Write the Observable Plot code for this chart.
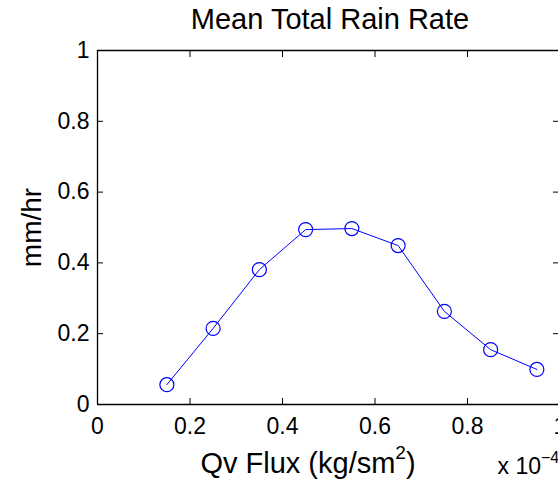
<!DOCTYPE html>
<html>
<head>
<meta charset="utf-8">
<script src="https://cdn.jsdelivr.net/npm/d3@7"></script>
<script src="https://cdn.jsdelivr.net/npm/@observablehq/plot@0.6"></script>
<style>
  html, body { margin: 0; padding: 0; background: #fff; }
</style>
</head>
<body>
<div id="chart"></div>
<script>
const qvFlux = [0.15, 0.25, 0.35, 0.45, 0.55, 0.65, 0.75, 0.85, 0.95];
const rainRate = [0.056, 0.215, 0.381, 0.494, 0.497, 0.449, 0.263, 0.155, 0.099];
const xTicks = [0, 0.2, 0.4, 0.6, 0.8, 1];
const yTicks = [0, 0.2, 0.4, 0.6, 0.8, 1];
const titleText = "Mean Total Rain Rate";
const xLabelBase = "Qv Flux (kg/sm";
const xLabelSup = "2";
const xLabelTail = ")";
const yLabel = "mm/hr";
const xExpBase = "x 10";
const xExpSup = "\u22124";

const data = qvFlux.map((x, i) => ({x, y: rainRate[i]}));
const fmt = d => String(d);
const blue = "#0000ff";
const xLabelFull = xLabelBase + xLabelSup + xLabelTail;
const xExpFull = xExpBase + xExpSup;

const chart = Plot.plot({
  width: 558,
  height: 482,
  marginTop: 50,
  marginBottom: 78,
  marginLeft: 97,
  marginRight: 0,
  style: {fontFamily: "'Liberation Sans', Arial, Helvetica, sans-serif", fontSize: "23px", background: "#fff", color: "#000"},
  x: {domain: [0, 1], range: [97, 559.5]},
  y: {domain: [0, 1]},
  marks: [
    Plot.ruleY([0, 1], {stroke: "#000", strokeWidth: 1.3}),
    Plot.ruleX([0, 1], {stroke: "#000", strokeWidth: 1.3}),
    Plot.axisX({anchor: "bottom", ticks: xTicks, tickSize: -6, tickPadding: 19, tickFormat: fmt, label: null, stroke: "#000", fill: "#000", fontSize: 23}),
    Plot.axisX({anchor: "top", ticks: xTicks, tickSize: -6, tickFormat: () => "", label: null, stroke: "#000"}),
    Plot.axisY({anchor: "left", ticks: yTicks, tickSize: -6, tickPadding: 14, tickFormat: fmt, label: null, stroke: "#000", fill: "#000", fontSize: 23}),
    Plot.axisY({anchor: "right", ticks: yTicks, tickSize: -6, tickFormat: () => "", label: null, stroke: "#000"}),
    Plot.line(data, {x: "x", y: "y", stroke: blue, strokeWidth: 1}),
    Plot.dot(data, {x: "x", y: "y", r: 7, stroke: blue, strokeWidth: 1.2, fill: "none"}),
    Plot.text([titleText], {frameAnchor: "top", dx: 2, dy: -22, lineAnchor: "bottom", textAnchor: "middle", fontSize: 29, fill: "#000"}),
    Plot.text([xLabelFull], {frameAnchor: "bottom", dx: -20, dy: 68, lineAnchor: "bottom", textAnchor: "middle", fontSize: 29, fill: "#000"}),
    Plot.text([xExpFull], {frameAnchor: "bottom-right", dx: -61, dy: 69, lineAnchor: "bottom", textAnchor: "start", fontSize: 23, fill: "#000"}),
    Plot.text([yLabel], {frameAnchor: "left", dx: -57, rotate: -90, lineAnchor: "bottom", textAnchor: "middle", fontSize: 28, fill: "#000"})
  ]
});

function superscript(svg, full, base, sup, tail, supSize, shift) {
  d3.select(svg).selectAll("text").filter(function () { return this.textContent === full; }).each(function () {
    const t = d3.select(this);
    t.text(null);
    t.append("tspan").text(base);
    t.append("tspan").attr("dy", -shift).attr("font-size", supSize).text(sup);
    if (tail) t.append("tspan").attr("dy", shift).text(tail);
  });
}
superscript(chart, xLabelFull, xLabelBase, xLabelSup, xLabelTail, 19, 14);
superscript(chart, xExpFull, xExpBase, xExpSup, "", 16, 11);

document.getElementById("chart").appendChild(chart);
</script>
</body>
</html>
